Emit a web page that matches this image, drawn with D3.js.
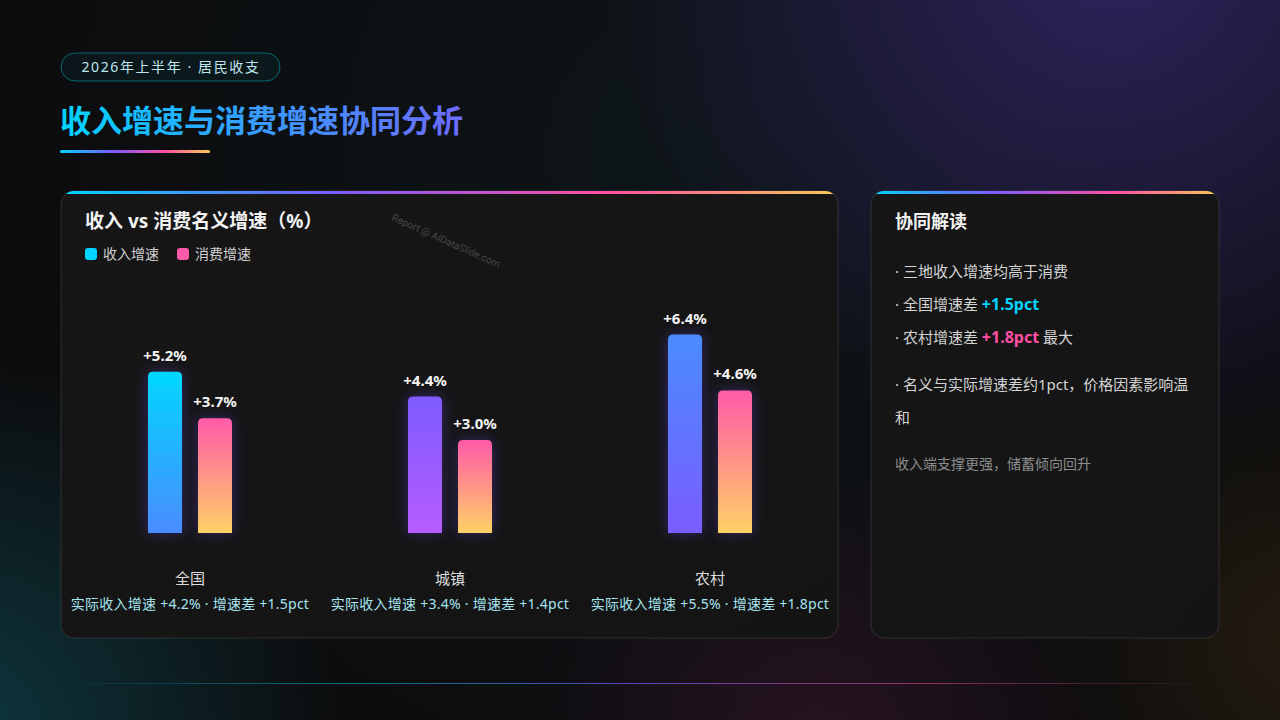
<!DOCTYPE html>
<html><head><meta charset="utf-8">
<script src="https://cdn.jsdelivr.net/npm/d3@7"></script>
<style>
html,body{margin:0;padding:0;background:#0b0b0c;}
svg{display:block;font-family:"Noto Sans","Noto Sans CJK SC",sans-serif;}
</style></head><body>
<svg id="c" width="1280" height="720"></svg>
<script>
// ---- data ----
const categories = ["全国", "城镇", "农村"];
const incomeGrowth = [5.2, 4.4, 6.4];
const consumeGrowth = [3.7, 3.0, 4.6];
const realIncomeGrowth = [4.2, 3.4, 5.5];
const growthGap = [1.5, 1.4, 1.8];
const seriesNames = ["收入增速", "消费增速"];
const insightLines = [
  [{t:"· 三地收入增速均高于消费"}],
  [{t:"· 全国增速差 "},{t:"+1.5pct",c:"#00d4ff",b:true}],
  [{t:"· 农村增速差 "},{t:"+1.8pct",c:"#ff4fa3",b:true},{t:" 最大"}],
];

const svg = d3.select("#c");
const defs = svg.append("defs");

function lin(id, stops, x1, y1, x2, y2){
  const g = defs.append("linearGradient").attr("id", id)
    .attr("x1",x1).attr("y1",y1).attr("x2",x2).attr("y2",y2);
  stops.forEach(s => g.append("stop").attr("offset", s[0]).attr("stop-color", s[1]).attr("stop-opacity", s[2]===undefined?1:s[2]));
}
function rad(id, cx, cy, r, color, op){
  const g = defs.append("radialGradient").attr("id", id).attr("cx",cx).attr("cy",cy).attr("r",r).attr("gradientUnits","userSpaceOnUse");
  g.append("stop").attr("offset",0).attr("stop-color",color).attr("stop-opacity",op);
  g.append("stop").attr("offset",1).attr("stop-color",color).attr("stop-opacity",0);
}
lin("rainbow", [[0,"#00d4ff"],[0.35,"#7b5cff"],[0.7,"#ff4fa3"],[1,"#ffc857"]], 0,0,1,0);
lin("titleGrad", [[0,"#00d4ff"],[0.5,"#3a9bff"],[1,"#6e6bff"]], 0,0,1,0);
lin("bottomLine", [[0,"#00d4ff",0],[0.25,"#00b4d8",0.6],[0.5,"#7b5cff",0.7],[0.75,"#ff4fa3",0.5],[1,"#ff4fa3",0]], 0,0,1,0);
lin("inc0", [[0,"#00d7ff"],[1,"#4a8cff"]], 0,0,0,1);
lin("inc1", [[0,"#7d5cff"],[1,"#b65cff"]], 0,0,0,1);
lin("inc2", [[0,"#4a8cff"],[1,"#7a5cff"]], 0,0,0,1);
lin("cons", [[0,"#ff5aa8"],[1,"#ffd166"]], 0,0,0,1);
lin("cardBg", [[0,"#161617"],[1,"#141414"]], 0,0,1,1);
rad("gPurple", 1120, -60, 520, "#3a2a78", 0.75);
rad("gTeal", -40, 740, 380, "#0e4a55", 0.7);
rad("gPink", 820, 760, 300, "#4a1a3a", 0.45);
rad("gOrange", 1300, 640, 260, "#3a2a12", 0.5);
rad("gTeal2", 700, 150, 700, "#10303a", 0.25);

const f = defs.append("filter").attr("id","glow").attr("x","-60%").attr("y","-30%").attr("width","220%").attr("height","160%");
f.append("feDropShadow").attr("dx",0).attr("dy",0).attr("stdDeviation",7).attr("flood-color","#6a4cff").attr("flood-opacity",0.35);

// background
svg.append("rect").attr("width",1280).attr("height",720).attr("fill","#0c0c0d");
["gTeal2","gPurple","gTeal","gPink","gOrange"].forEach(id=>
  svg.append("rect").attr("width",1280).attr("height",720).attr("fill",`url(#${id})`));

// pill
svg.append("rect").attr("x",61).attr("y",53).attr("width",219).attr("height",28).attr("rx",14)
  .attr("fill","rgba(0,212,255,0.05)").attr("stroke","rgba(0,200,230,0.45)").attr("stroke-width",1);
svg.append("text").attr("x",171).attr("y",72).attr("text-anchor","middle")
  .attr("font-size",14).attr("letter-spacing",1.6).attr("fill","#bfe6ee").text("2026年上半年 · 居民收支");

// title
svg.append("text").attr("x",60).attr("y",132).attr("font-size",31).attr("font-weight",700)
  .attr("fill","url(#titleGrad)").text("收入增速与消费增速协同分析");
svg.append("rect").attr("x",60).attr("y",150).attr("width",150).attr("height",3).attr("rx",1.5).attr("fill","url(#rainbow)");

// cards
function card(x,y,w,h){
  svg.append("rect").attr("x",x).attr("y",y).attr("width",w).attr("height",h).attr("rx",13)
    .attr("fill","url(#cardBg)").attr("stroke","rgba(255,255,255,0.12)").attr("stroke-width",1);
  const cp = "cp"+x;
  defs.append("clipPath").attr("id",cp).append("rect").attr("x",x).attr("y",y).attr("width",w).attr("height",h).attr("rx",13);
  svg.append("rect").attr("x",x).attr("y",y).attr("width",w).attr("height",3).attr("fill","url(#rainbow)").attr("clip-path",`url(#${cp})`);
}
card(61,191,777,447);
card(871,191,348,447);

// left card title & legend
svg.append("text").attr("x",85).attr("y",228).attr("font-size",19).attr("font-weight",700).attr("fill","#f2f2f2")
  .text("收入 vs 消费名义增速（%）");
svg.append("text").attr("transform","translate(391,220) rotate(24)").attr("font-size",10)
  .attr("fill","rgba(255,255,255,0.22)").attr("font-family","Roboto, 'Noto Sans', sans-serif").text("Report @ AIDataSlide.com");

const legendColors = ["#00d4ff","#ff5aa8"];
const legX = [85, 177];
seriesNames.forEach((n,i)=>{
  svg.append("rect").attr("x",legX[i]).attr("y",248).attr("width",12).attr("height",12).attr("rx",3).attr("fill",legendColors[i]);
  svg.append("text").attr("x",legX[i]+18).attr("y",259).attr("font-size",14).attr("fill","#cfcfcf").text(n);
});

// scales
const x0 = d3.scaleBand().domain(categories).range([60,840]).padding(0);
const x1 = d3.scaleBand().domain([0,1]).range([88,172]).paddingInner(0.32).paddingOuter(0);
const y = d3.scaleLinear().domain([0,8]).range([533,285]);

function topRounded(x, yTop, w, yBot, r){
  return `M${x},${yBot}V${yTop+r}Q${x},${yTop} ${x+r},${yTop}H${x+w-r}Q${x+w},${yTop} ${x+w},${yTop+r}V${yBot}Z`;
}

const groups = svg.selectAll("g.grp").data(categories).join("g").attr("class","grp")
  .attr("transform", d=>`translate(${x0(d)},0)`);

groups.each(function(cat, i){
  const g = d3.select(this);
  const vals = [incomeGrowth[i], consumeGrowth[i]];
  const fills = [`url(#inc${i})`, "url(#cons)"];
  vals.forEach((v,j)=>{
    const bx = x1(j), bw = x1.bandwidth();
    g.append("path").attr("d", topRounded(bx, y(v), bw, y(0), 5))
      .attr("fill", fills[j]).attr("filter","url(#glow)");
    g.append("text").attr("x", bx+bw/2).attr("y", y(v)-11).attr("text-anchor","middle")
      .attr("font-size",15).attr("font-weight",700).attr("fill","#f4f4f4")
      .text("+"+v.toFixed(1)+"%");
  });
  g.append("text").attr("x", x0.bandwidth()/2).attr("y",584).attr("text-anchor","middle")
    .attr("font-size",15).attr("fill","#dcdcdc").text(cat);
  g.append("text").attr("x", x0.bandwidth()/2).attr("y",609).attr("text-anchor","middle")
    .attr("font-size",14).attr("letter-spacing",0.25).attr("fill","#a6e4f0")
    .text(`实际收入增速 +${realIncomeGrowth[i].toFixed(1)}% · 增速差 +${growthGap[i].toFixed(1)}pct`);
});

// right card
svg.append("text").attr("x",895).attr("y",228).attr("font-size",18).attr("font-weight",700).attr("fill","#f2f2f2").text("协同解读");
const lineY = [277, 310, 343];
insightLines.forEach((parts,i)=>{
  const t = svg.append("text").attr("x",895).attr("y",lineY[i]).attr("font-size",15).attr("fill","#d4d4d4");
  parts.forEach(p=>{
    const ts = t.append("tspan").text(p.t);
    if(p.c) ts.attr("fill",p.c);
    if(p.b) ts.attr("font-weight",700).attr("font-size",16);
  });
});
svg.append("text").attr("x",895).attr("y",390).attr("font-size",15).attr("fill","#d4d4d4").text("· 名义与实际增速差约1pct，价格因素影响温");
svg.append("text").attr("x",895).attr("y",423).attr("font-size",15).attr("fill","#d4d4d4").text("和");
svg.append("text").attr("x",895).attr("y",469).attr("font-size",14).attr("fill","#8c8c8c").text("收入端支撑更强，储蓄倾向回升");

// bottom line
svg.append("rect").attr("x",60).attr("y",683).attr("width",1160).attr("height",1).attr("fill","url(#bottomLine)");
</script>
</body></html>
